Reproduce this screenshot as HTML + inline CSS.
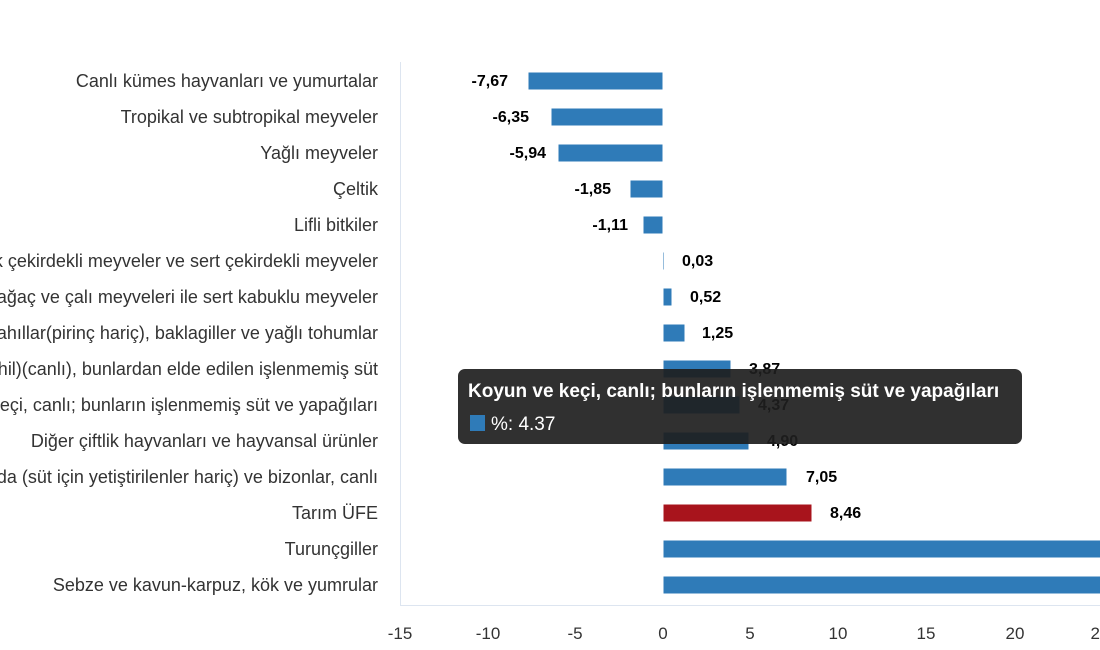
<!DOCTYPE html><html><head><meta charset="utf-8"><style>body{margin:0;background:#fff}svg{display:block;font-family:"Liberation Sans",sans-serif}</style></head><body>
<svg width="1100" height="650" viewBox="0 0 1100 650">
<line x1="400.5" y1="62" x2="400.5" y2="606" stroke="#dde5f0"/>
<line x1="400" y1="605.5" x2="1100" y2="605.5" stroke="#dde5f0"/>
<g font-size="18" fill="#333" text-anchor="end">
<text x="378" y="87">Canlı kümes hayvanları ve yumurtalar</text>
<text x="378" y="123">Tropikal ve subtropikal meyveler</text>
<text x="378" y="159">Yağlı meyveler</text>
<text x="378" y="195">Çeltik</text>
<text x="378" y="231">Lifli bitkiler</text>
<text x="378" y="267">Yumuşak çekirdekli meyveler ve sert çekirdekli meyveler</text>
<text x="378" y="303">Diğer ağaç ve çalı meyveleri ile sert kabuklu meyveler</text>
<text x="378" y="339">Tahıllar(pirinç hariç), baklagiller ve yağlı tohumlar</text>
<text x="378" y="375">Sığır (manda dahil)(canlı), bunlardan elde edilen işlenmemiş süt</text>
<text x="378" y="411">Koyun ve keçi, canlı; bunların işlenmemiş süt ve yapağıları</text>
<text x="378" y="447">Diğer çiftlik hayvanları ve hayvansal ürünler</text>
<text x="378" y="483">Sığır ve manda (süt için yetiştirilenler hariç) ve bizonlar, canlı</text>
<text x="378" y="519">Tarım ÜFE</text>
<text x="378" y="555">Turunçgiller</text>
<text x="378" y="591">Sebze ve kavun-karpuz, kök ve yumrular</text>
</g>
<g fill="#2f7bb8" stroke="#fff" stroke-width="1">
<rect x="528" y="72" width="135" height="18"/>
<rect x="551" y="108" width="112" height="18"/>
<rect x="558" y="144" width="105" height="18"/>
<rect x="630" y="180" width="33" height="18"/>
<rect x="643" y="216" width="20" height="18"/>
<rect x="662.5" y="252" width="1.5" height="18"/>
<rect x="663" y="288" width="9" height="18"/>
<rect x="663" y="324" width="22" height="18"/>
<rect x="663" y="360" width="68" height="18"/>
<rect x="663" y="396" width="77" height="18"/>
<rect x="663" y="432" width="86" height="18"/>
<rect x="663" y="468" width="124" height="18"/>
<rect x="663" y="504" width="149" height="18" fill="#a8141c"/>
<rect x="663" y="540" width="440" height="18"/>
<rect x="663" y="576" width="440" height="18"/>
</g>
<g font-size="16" font-weight="bold" fill="#000">
<g text-anchor="end">
<text x="508" y="86">-7,67</text>
<text x="529" y="122">-6,35</text>
<text x="546" y="158">-5,94</text>
<text x="611" y="194">-1,85</text>
<text x="628" y="230">-1,11</text>
</g>
<text x="682" y="266">0,03</text>
<text x="690" y="302">0,52</text>
<text x="702" y="338">1,25</text>
<text x="749" y="374">3,87</text>
<text x="758" y="410">4,37</text>
<text x="767" y="446">4,90</text>
<text x="806" y="482">7,05</text>
<text x="830" y="518">8,46</text>
</g>
<g font-size="17" fill="#333" text-anchor="middle">
<text x="400" y="639">-15</text><text x="488" y="639">-10</text><text x="575" y="639">-5</text><text x="663" y="639">0</text><text x="750" y="639">5</text><text x="838" y="639">10</text><text x="926" y="639">15</text><text x="1015" y="639">20</text><text x="1100" y="639">25</text>
</g>
<rect x="458" y="369" width="564" height="75" rx="7" fill="#1e1e1e" fill-opacity="0.92"/>
<text x="468" y="397" font-size="19" font-weight="bold" fill="#fff">Koyun ve keçi, canlı; bunların işlenmemiş süt ve yapağıları</text>
<rect x="470" y="415" width="15" height="16" fill="#2f7bb8"/>
<text x="491" y="430" font-size="19" fill="#fff">%: 4.37</text>
</svg>
</body></html>
